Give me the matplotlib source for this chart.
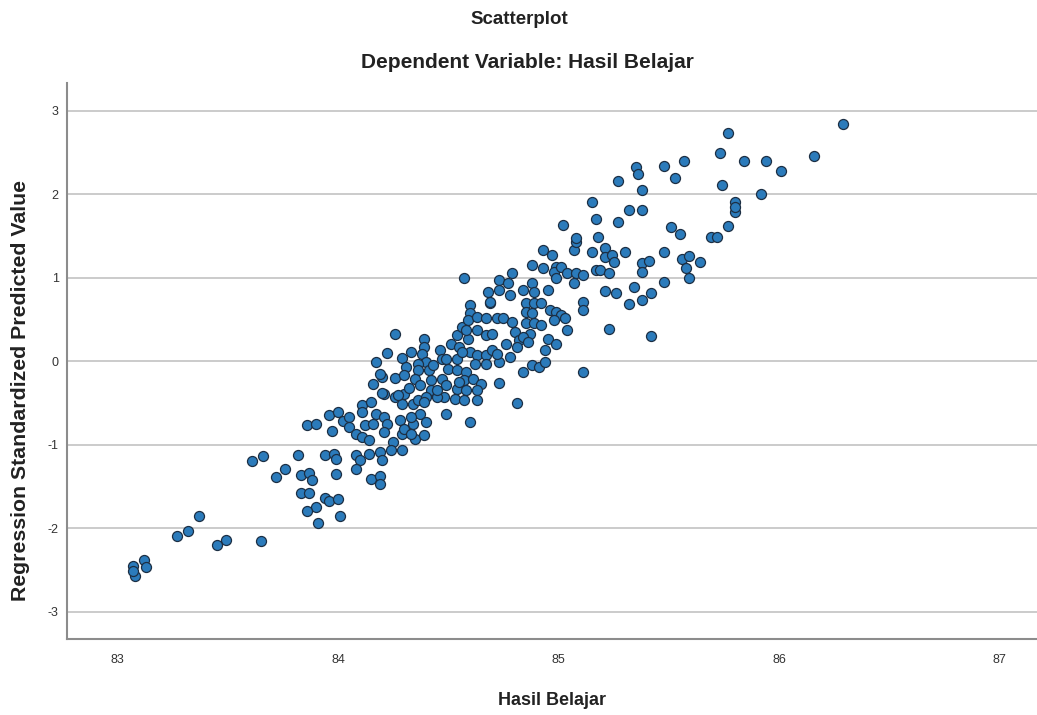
import matplotlib
matplotlib.use("Agg")
import matplotlib.pyplot as plt

# Hasil Belajar (x) and Regression Standardized Predicted Value (y)
hasil_belajar = [
    83.61, 83.66, 83.82, 83.94, 83.98, 83.99, 83.76, 83.72, 83.83, 83.87, 83.88, 83.99,
    83.83, 83.87, 83.94, 83.96, 84.00, 83.90, 83.86, 84.01, 83.91, 83.37, 83.32, 83.27,
    83.49, 83.45, 83.65, 83.07, 83.12, 83.13, 83.08, 83.07,
    83.86, 83.90, 83.96, 84.00, 83.97, 84.02, 84.05, 84.05, 84.08, 84.11, 84.11, 84.12,
    84.11, 84.15, 84.17, 84.16, 84.14, 84.21, 84.26, 84.21, 84.22, 84.21, 84.28, 84.29,
    84.30, 84.34, 84.34, 84.35, 84.29, 84.25, 84.08, 84.10, 84.08, 84.14, 84.19, 84.20,
    84.24, 84.29, 84.15, 84.19, 84.19, 84.39,
    84.26, 84.22, 84.17, 84.16, 84.20, 84.20, 84.26, 84.29, 84.33, 84.39, 84.39, 84.38,
    84.40, 84.36, 84.31, 84.30, 84.36, 84.41, 84.35, 84.32, 84.37, 84.42, 84.42, 84.27,
    84.36, 84.46, 84.47, 84.51, 84.49, 84.50, 84.47, 84.49, 84.48, 84.54, 84.55, 84.54,
    84.56, 84.60, 84.60, 84.59, 84.63, 84.69, 84.67, 84.72, 84.75, 84.63, 84.67, 84.70,
    84.59, 84.60, 84.63, 84.67, 84.70, 84.73, 84.76, 84.62, 84.67, 84.54, 84.58, 84.57,
    84.61, 84.65, 84.73, 84.54, 84.58, 84.63, 84.53, 84.57, 84.63, 84.40, 84.45, 84.19,
    84.57, 84.68, 84.73, 84.79, 84.77, 84.73, 84.78, 84.69, 84.58, 84.79, 84.80, 84.82,
    84.84, 84.88, 84.89, 84.85, 84.89, 84.92, 84.85, 84.88, 84.85, 84.89, 84.92, 84.87,
    84.84, 84.88, 84.93, 84.93, 84.97, 84.99, 84.98, 85.01, 85.04, 85.08, 85.11, 85.07,
    84.99, 84.95, 84.96, 84.99, 85.01, 85.03, 84.98, 85.04, 85.11, 85.11, 84.95, 84.99,
    85.07, 85.15, 85.08, 85.17,
    85.11, 84.81, 84.60, 84.49, 84.84, 84.88, 84.91, 84.94, 84.94, 84.81, 84.78, 84.86,
    84.72, 84.55, 84.56, 84.43, 84.45, 84.39, 84.37, 84.33, 84.40, 84.30, 84.33,
    85.17, 85.27, 85.32, 85.38, 85.18, 85.21, 85.21, 85.24, 85.25, 85.30, 85.19, 85.23,
    85.38, 85.38, 85.41, 85.48, 85.51, 85.55, 85.56, 85.59, 85.58, 85.59, 85.64, 85.69,
    85.72, 85.77, 85.80, 85.48, 85.34, 85.42, 85.38, 85.32, 85.21, 85.26, 85.23, 85.42,
    85.77, 85.73, 85.74, 85.80, 85.80, 85.57, 85.48, 85.53, 85.35, 85.36, 85.27, 85.38,
    85.15, 85.02, 85.08,
    86.29, 85.84, 85.94, 86.16, 86.01, 85.92,
]
predicted = [
    -1.20, -1.14, -1.13, -1.12, -1.11, -1.17, -1.29, -1.39, -1.36, -1.34, -1.42, -1.35,
    -1.58, -1.58, -1.64, -1.68, -1.65, -1.75, -1.80, -1.86, -1.94, -1.86, -2.03, -2.09,
    -2.14, -2.20, -2.15, -2.45, -2.38, -2.47, -2.57, -2.51,
    -0.77, -0.75, -0.65, -0.61, -0.84, -0.72, -0.67, -0.79, -0.87, -0.53, -0.61, -0.77,
    -0.91, -0.49, -0.63, -0.75, -0.95, -0.39, -0.43, -0.67, -0.75, -0.85, -0.71, -0.51,
    -0.39, -0.51, -0.75, -0.93, -0.87, -0.97, -1.13, -1.19, -1.29, -1.11, -1.09, -1.19,
    -1.07, -1.07, -1.41, -1.37, -1.47, -0.89,
    0.33, 0.10, -0.01, -0.27, -0.19, -0.38, -0.20, 0.04, 0.11, 0.27, 0.17, 0.09,
    -0.01, -0.03, -0.07, -0.17, -0.11, -0.11, -0.21, -0.32, -0.29, -0.23, -0.35, -0.41,
    -0.47, 0.13, 0.03, 0.21, 0.03, -0.09, -0.21, -0.29, -0.43, 0.03, 0.17, 0.31,
    0.41, 0.67, 0.57, 0.49, 0.53, 0.69, 0.51, 0.51, 0.51, 0.37, 0.31, 0.33,
    0.27, 0.11, 0.07, 0.07, 0.13, -0.01, 0.21, -0.03, -0.03, -0.11, -0.13, -0.23,
    -0.21, -0.27, -0.26, -0.33, -0.35, -0.35, -0.45, -0.47, -0.47, -0.43, -0.43, -0.15,
    0.99, 0.83, 0.97, 1.05, 0.93, 0.85, 0.79, 0.71, 0.37, 0.47, 0.35, 0.25,
    0.85, 0.93, 0.83, 0.69, 0.69, 0.69, 0.59, 0.57, 0.45, 0.45, 0.43, 0.33,
    0.29, 1.15, 1.11, 1.33, 1.27, 1.13, 1.07, 1.13, 1.05, 1.05, 1.03, 0.93,
    0.99, 0.85, 0.61, 0.59, 0.55, 0.51, 0.49, 0.37, 0.71, 0.61, 0.27, 0.21,
    1.33, 1.31, 1.43, 1.09,
    -0.13, -0.50, -0.73, -0.63, -0.13, -0.05, -0.07, -0.01, 0.13, 0.17, 0.05, 0.23,
    0.09, -0.25, 0.11, -0.05, -0.35, -0.49, -0.63, -0.67, -0.73, -0.81, -0.87,
    1.70, 1.66, 1.81, 1.81, 1.48, 1.35, 1.25, 1.27, 1.19, 1.30, 1.09, 1.05,
    1.17, 1.07, 1.20, 1.30, 1.61, 1.52, 1.22, 1.26, 1.11, 0.99, 1.19, 1.49,
    1.48, 1.62, 1.79, 0.95, 0.89, 0.81, 0.73, 0.68, 0.84, 0.81, 0.39, 0.30,
    2.73, 2.49, 2.11, 1.91, 1.85, 2.39, 2.33, 2.19, 2.32, 2.24, 2.15, 2.05,
    1.91, 1.63, 1.47,
    2.84, 2.39, 2.40, 2.45, 2.27, 2.00,
]

x_ticks = [83, 84, 85, 86, 87]
y_ticks = [-3, -2, -1, 0, 1, 2, 3]

narrow = ["Liberation Sans Narrow", "Liberation Sans", "DejaVu Sans"]
plt.rcParams["font.family"] = ["Liberation Sans", "DejaVu Sans"]

fig = plt.figure(figsize=(10.37, 7.15), dpi=100)
ax = fig.add_axes([0.0646, 0.106, 0.9354, 0.778])

ax.scatter(hasil_belajar, predicted, s=52, facecolor="#2b7bbb",
           edgecolor="#1c2f44", linewidth=0.9, zorder=3)

ax.set_xlim(82.77, 87.17)
ax.set_ylim(-3.33, 3.33)
ax.set_xticks(x_ticks)
ax.set_yticks(y_ticks)
ax.set_xticklabels([str(t) for t in x_ticks], family=narrow, fontsize=9, color="#333333")
ax.set_yticklabels([str(t) for t in y_ticks], family=narrow, fontsize=9, color="#333333")
ax.tick_params(axis="x", length=0, pad=11)
ax.tick_params(axis="y", length=0, pad=6)

ax.grid(axis="y", color="#bdbdbd", linewidth=1.1, zorder=0)
for side in ["top", "right"]:
    ax.spines[side].set_visible(False)
for side in ["left", "bottom"]:
    ax.spines[side].set_color("#8c8c8c")
    ax.spines[side].set_linewidth(1.5)

ax.set_xlabel("Hasil Belajar", fontsize=13, fontweight="bold", color="#222222")
ax.xaxis.set_label_coords(0.5, -0.095)
ax.set_ylabel("Regression Standardized Predicted Value", fontsize=15.3, fontweight="bold",
              color="#222222")
ax.yaxis.set_label_coords(-0.038, 0.448)

fig.text(0.501, 0.973, "Scatterplot", ha="center", va="center", fontsize=13.5,
         fontweight="bold", color="#222222")
fig.text(0.509, 0.913, "Dependent Variable: Hasil Belajar", ha="center", va="center",
         fontsize=15, fontweight="bold", color="#222222")

fig.savefig("out.png", dpi=100)
